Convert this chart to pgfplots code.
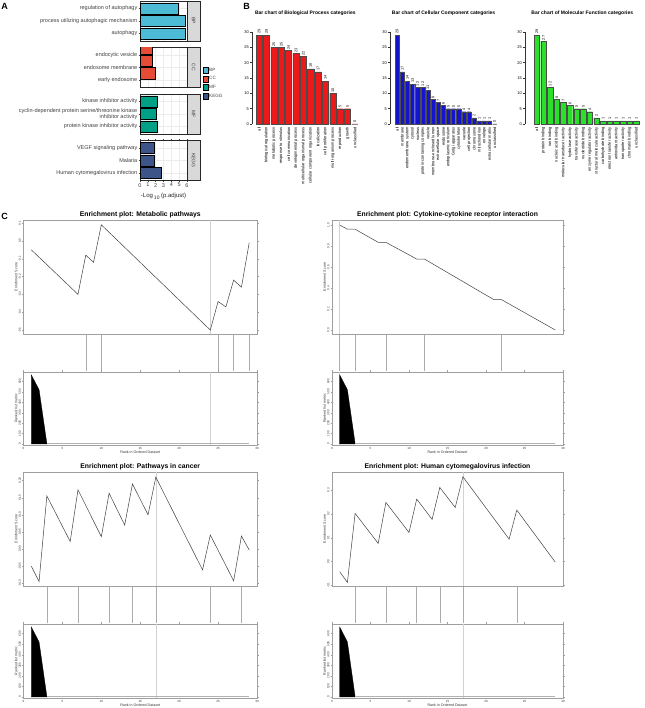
\documentclass[border=0pt]{standalone}
\usepackage{pgfplots}
\pgfplotsset{compat=1.18}
\usepackage{fontspec}
\setmainfont{Liberation Sans}
\newcommand\fs[1]{\fontsize{#1}{#1}\selectfont}
\definecolor{bpA}{HTML}{4DBBD5}
\definecolor{ccA}{HTML}{E64B35}
\definecolor{mfA}{HTML}{00A087}
\definecolor{kgA}{HTML}{3C5488}
\definecolor{redB}{RGB}{235,25,25}
\definecolor{blueB}{RGB}{20,20,205}
\definecolor{greenB}{RGB}{40,225,40}
\pgfplotsset{
  /pgf/number format/assume math mode=true,
  pA/.style={
    scale only axis, anchor=north west, width=47pt, height=40pt,
    xmin=0, xmax=6, ymin=0.4, ymax=3.6,
    xbar, bar width=0.9,
    ytick={1,2,3}, xtick={0,1,...,6},
    xmajorgrids, ymajorgrids,
    major grid style={gray!15, line width=0.4pt},
    axis line style={black!85, line width=0.5pt},
    tick align=outside, major tick length=1.5pt,
    tick style={black!70, line width=0.4pt},
    yticklabel style={font=\fontsize{5.5}{6}\selectfont, text=black!75, align=right, inner sep=1pt},
    xticklabel style={font=\fs{5.5}, text=black!75, inner sep=1pt},
  },
  pAinner/.style={xticklabels={}, xtick style={draw=none}},
  strip/.style={extra description/.append code={
      \draw[black!85, fill=gray!30, line width=0.5pt] (axis description cs:1,0) rectangle ([xshift=13pt]axis description cs:1,1);
      \node[rotate=-90, font=\fs{5}, text=black!75] at ([xshift=6.5pt]axis description cs:1,0.5) {#1};
  }},
  lsq/.style={legend image code/.code={\draw[##1, line width=0.4pt] (0pt,-2.8pt) rectangle (5.5pt,3pt);}},
  pB/.style={
    scale only axis, anchor=north west, height=92pt,
    ymin=0, ymax=30, ytick={0,5,...,30},
    ybar, bar width=0.833,
    axis lines*=left, x axis line style={draw=none},
    axis line style={black!80, line width=0.4pt},
    xtick style={draw=none}, ytick style={black!80, line width=0.4pt},
    tick align=outside, major tick length=2pt,
    yticklabel style={font=\fs{4}, inner sep=1pt},
    xticklabel style={rotate=90, anchor=east, font=\fs{4}, inner sep=1pt},
    nodes near coords, nodes near coords style={rotate=90, anchor=west, font=\fs{3.8}, text=black, inner sep=1pt},
    clip=false,
    every axis title/.style={font=\bfseries\fs{5}, at={(axis description cs:0.5,1)}, anchor=south, yshift=15pt, inner sep=1pt},
  },
  pC/.style={
    scale only axis, anchor=north west, xmin=0, xmax=30, width=233.5pt,
    axis line style={gray!75, line width=0.4pt},
    tick align=outside, major tick length=1.5pt, tick style={gray!75, line width=0.3pt},
    yticklabel style={rotate=90, anchor=south, font=\fs{3}, text=black!80, inner sep=0.8pt},
    xticklabel style={font=\fs{3}, text=black!80, inner sep=0.8pt},
    ylabel style={font=\fs{3.6}, text=black!80, inner sep=0.5pt},
    xlabel style={font=\fs{3.6}, text=black!80, inner sep=0.3pt},
  },
  pCtop/.style={pC, height=114pt, xtick=\empty, ylabel={Enrichment Score},
    every axis title/.style={font=\bfseries\fs{6.8}, at={(axis description cs:0.5,1)}, anchor=south, yshift=0.8pt, inner sep=1pt}},
  pCmid/.style={scale only axis, anchor=north west, xmin=0, xmax=30, width=233.5pt, ymin=0, ymax=1, height=36pt, hide axis},
  pCbot/.style={pC, xtick={0,5,...,30}, ytick={0,100,...,600}, ymin=-10, ymax=690,
    xlabel={Rank in Ordered Dataset}, ylabel={Ranked list metric}},
  esline/.style={black!75, line width=0.5pt},
  hitline/.style={ycomb, gray!65, line width=0.45pt},
  maxline/.style={gray!35, line width=0.6pt},
  fixed1/.style={yticklabel style={/pgf/number format/fixed, /pgf/number format/fixed zerofill, /pgf/number format/precision=#1}},
}
\begin{document}
\begin{tikzpicture}[x=1pt,y=1pt]
\path[use as bounding box] (0,0) rectangle (644,708);
% panel letters
\node[font=\bfseries\fs{9}] at (4.5,701.7) {A};
\node[font=\bfseries\fs{9}] at (246.5,701.7) {B};
\node[font=\bfseries\fs{9}] at (4.5,491.3) {C};

% ---------------- Panel A ----------------
\begin{axis}[pA, pAinner, strip=BP, at={(140pt,707pt)},
  yticklabels={autophagy, process utilizing autophagic mechanism, regulation of autophagy}]
\addplot[fill=bpA, draw=black, line width=0.5pt] coordinates {(5.80,1) (5.83,2) (4.92,3)};
\end{axis}
\begin{axis}[pA, pAinner, strip=CC, at={(140pt,660.5pt)},
  yticklabels={early endosome, endosome membrane, endocytic vesicle},
  legend style={at={(axis description cs:1.33,0.51)}, anchor=north west, draw=none, fill=none,
    font=\fs{4.6}, text=black!75, row sep=2.4pt, inner sep=0pt, nodes={inner sep=0.6pt}},
  legend cell align=left]
\addlegendimage{lsq, fill=bpA, draw=black}\addlegendentry{BP}
\addlegendimage{lsq, fill=ccA, draw=black}\addlegendentry{CC}
\addlegendimage{lsq, fill=mfA, draw=black}\addlegendentry{MF}
\addlegendimage{lsq, fill=kgA, draw=black}\addlegendentry{KEGG}
\addplot[forget plot, fill=ccA, draw=black, line width=0.5pt] coordinates {(1.93,1) (1.58,2) (1.58,3)};
\end{axis}
\begin{axis}[pA, pAinner, strip=MF, at={(140pt,614pt)},
  yticklabels={protein kinase inhibitor activity, {cyclin-dependent protein serine/threonine kinase\\inhibitor activity}, kinase inhibitor activity}]
\addplot[fill=mfA, draw=black, line width=0.5pt] coordinates {(2.14,1) (2.12,2) (2.14,3)};
\end{axis}
\begin{axis}[pA, strip=KEGG, at={(140pt,567.5pt)},
  yticklabels={Human cytomegalovirus infection, Malaria, VEGF signaling pathway},
  xlabel={-Log\,\textsubscript{10}\,(p.adjust)}, xlabel style={font=\fs{6}, text=black!85, inner sep=1pt, yshift=-4pt}]
\addplot[fill=kgA, draw=black, line width=0.5pt] coordinates {(2.70,1) (1.80,2) (1.80,3)};
\end{axis}

% ---------------- Panel B ----------------
\begin{axis}[pB, at={(252pt,676pt)}, width=106.6pt, xmin=0.04, xmax=14.5,
  title={Bar chart of Biological Process categories},
  xtick={1,...,14},
  xticklabels={all, biological regulation, metabolic process, response to stimulus, cell communication, developmental process, multicellular organismal process, cellular component organization, localization, cell proliferation, multi-organism process, reproduction, growth, unclassified}]
\addplot[fill=redB, draw=black!70, line width=0.3pt] coordinates {
(1,29) (2,29) (3,25) (4,25) (5,24) (6,23) (7,22) (8,18) (9,17) (10,14) (11,10) (12,5) (13,5) (14,0)};
\end{axis}
\begin{axis}[pB, at={(390pt,676pt)}, width=107.2pt, xmin=-0.39, xmax=20.5,
  title={Bar chart of Cellular Component categories},
  xtick={1,...,20},
  xticklabels={all, membrane, endomembrane system, cytosol, nucleus, protein-containing complex, vesicle, membrane-enclosed lumen, extracellular space, endosome, endoplasmic reticulum, Golgi apparatus, cytoskeleton, vacuole, cell projection, chromosome, mitochondrion, envelope, extracellular matrix, unclassified}]
\addplot[fill=blueB, draw=black!70, line width=0.3pt] coordinates {
(1,29) (2,17) (3,14) (4,13) (5,12) (6,12) (7,11) (8,8) (9,7) (10,6) (11,5) (12,5) (13,5) (14,4) (15,4) (16,2) (17,1) (18,1) (19,1) (20,0)};
\end{axis}
\begin{axis}[pB, at={(525pt,676pt)}, width=114.6pt, xmin=-0.78, xmax=16.5,
  title={Bar chart of Molecular Function categories},
  xtick={1,...,16},
  xticklabels={all, protein binding, ion binding, nucleic acid binding, molecular transducer activity, hydrolase activity, transferase activity, nucleotide binding, enzyme regulator activity, structural molecule activity, carbohydrate binding, electron transfer activity, antioxidant activity, transporter activity, chromatin binding, unclassified}]
\addplot[fill=greenB, draw=black!70, line width=0.3pt] coordinates {
(1,29) (2,27) (3,12) (4,8) (5,7) (6,6) (7,5) (8,5) (9,4) (10,2) (11,1) (12,1) (13,1) (14,1) (15,1) (16,1)};
\end{axis}

% ---------------- Panel C : plot 1 ----------------
\begin{axis}[pCtop, at={(23.5pt,488pt)}, ymin=-0.522, ymax=0.117,
  ytick={-0.5,-0.4,-0.3,-0.2,-0.1,0,0.1}, fixed1=1,
  title={Enrichment plot: Metabolic pathways}]
\addplot[maxline] coordinates {(24,-0.522) (24,0.117)};
\addplot[esline] coordinates {(1,-0.05) (7,-0.30) (8,-0.08) (9,-0.12) (10,0.09) (24,-0.50) (25,-0.34) (26,-0.37) (27,-0.22) (28,-0.26) (29,-0.01)};
\end{axis}
\begin{axis}[pCmid, at={(23.5pt,373pt)}]
\addplot[hitline] coordinates {(8,1) (10,1) (25,1) (27,1) (29,1)};
\end{axis}
\begin{axis}[pCbot, at={(23.5pt,336pt)}, height=73pt]
\addplot[maxline] coordinates {(24,-10) (24,690)};
\addplot[fill=black, draw=black, line width=0.3pt] coordinates {(1,662) (2,520) (3,5)} \closedcycle;
\addplot[gray!60, line width=0.8pt] coordinates {(3,5) (29,5)};
\end{axis}

% ---------------- Panel C : plot 2 ----------------
\begin{axis}[pCtop, at={(332pt,488pt)}, width=231pt, ymin=-0.038, ymax=1.048,
  ytick={0,0.2,0.4,0.6,0.8,1.0}, fixed1=1,
  title={Enrichment plot: Cytokine-cytokine receptor interaction}]
\addplot[maxline] coordinates {(1,-0.038) (1,1.048)};
\addplot[esline] coordinates {(1,1.0) (2,0.96) (3,0.96) (6,0.835) (7,0.835) (11,0.676) (12,0.676) (21,0.29) (22,0.29) (29,0.0)};
\end{axis}
\begin{axis}[pCmid, at={(332pt,373pt)}, width=231pt]
\addplot[hitline] coordinates {(1,1) (3,1) (7,1) (12,1) (22,1)};
\end{axis}
\begin{axis}[pCbot, at={(332pt,336pt)}, width=231pt, height=73pt]
\addplot[maxline] coordinates {(1,-10) (1,690)};
\addplot[fill=black, draw=black, line width=0.3pt] coordinates {(1,662) (2,520) (3,5)} \closedcycle;
\addplot[gray!60, line width=0.8pt] coordinates {(3,5) (29,5)};
\end{axis}

% ---------------- Panel C : plot 3 ----------------
\begin{axis}[pCtop, at={(23.5pt,236pt)}, ymin=-0.108, ymax=0.225,
  ytick={-0.10,-0.05,0,0.05,0.10,0.15,0.20}, fixed1=2,
  title={Enrichment plot: Pathways in cancer}]
\addplot[maxline] coordinates {(17,-0.108) (17,0.225)};
\addplot[esline] coordinates {(1,-0.05) (2,-0.095) (3,0.155) (6,0.022) (7,0.173) (10,0.036) (11,0.163) (13,0.07) (14,0.19) (16,0.10) (17,0.21) (23,-0.061) (24,0.041) (27,-0.093) (28,0.038) (29,-0.003)};
\end{axis}
\begin{axis}[pCmid, at={(23.5pt,121pt)}]
\addplot[hitline] coordinates {(3,1) (7,1) (11,1) (14,1) (17,1) (24,1) (28,1)};
\end{axis}
\begin{axis}[pCbot, at={(23.5pt,84pt)}, height=74pt]
\addplot[maxline] coordinates {(17,-10) (17,690)};
\addplot[fill=black, draw=black, line width=0.3pt] coordinates {(1,662) (2,520) (3,5)} \closedcycle;
\addplot[gray!60, line width=0.8pt] coordinates {(3,5) (29,5)};
\end{axis}

% ---------------- Panel C : plot 4 ----------------
\begin{axis}[pCtop, at={(332pt,236pt)}, width=231pt, ymin=-0.103, ymax=0.376,
  ytick={-0.1,0,0.1,0.2,0.3}, fixed1=1,
  title={Enrichment plot: Human cytomegalovirus infection}]
\addplot[maxline] coordinates {(17,-0.103) (17,0.376)};
\addplot[esline] coordinates {(1,-0.043) (2,-0.088) (3,0.202) (6,0.076) (7,0.248) (10,0.122) (11,0.262) (13,0.177) (14,0.311) (16,0.227) (17,0.356) (23,0.094) (24,0.216) (29,-0.003)};
\end{axis}
\begin{axis}[pCmid, at={(332pt,121pt)}, width=231pt]
\addplot[hitline] coordinates {(3,1) (7,1) (11,1) (14,1) (17,1) (24,1)};
\end{axis}
\begin{axis}[pCbot, at={(332pt,84pt)}, width=231pt, height=74pt]
\addplot[maxline] coordinates {(17,-10) (17,690)};
\addplot[fill=black, draw=black, line width=0.3pt] coordinates {(1,662) (2,520) (3,5)} \closedcycle;
\addplot[gray!60, line width=0.8pt] coordinates {(3,5) (29,5)};
\end{axis}
\end{tikzpicture}
\end{document}
